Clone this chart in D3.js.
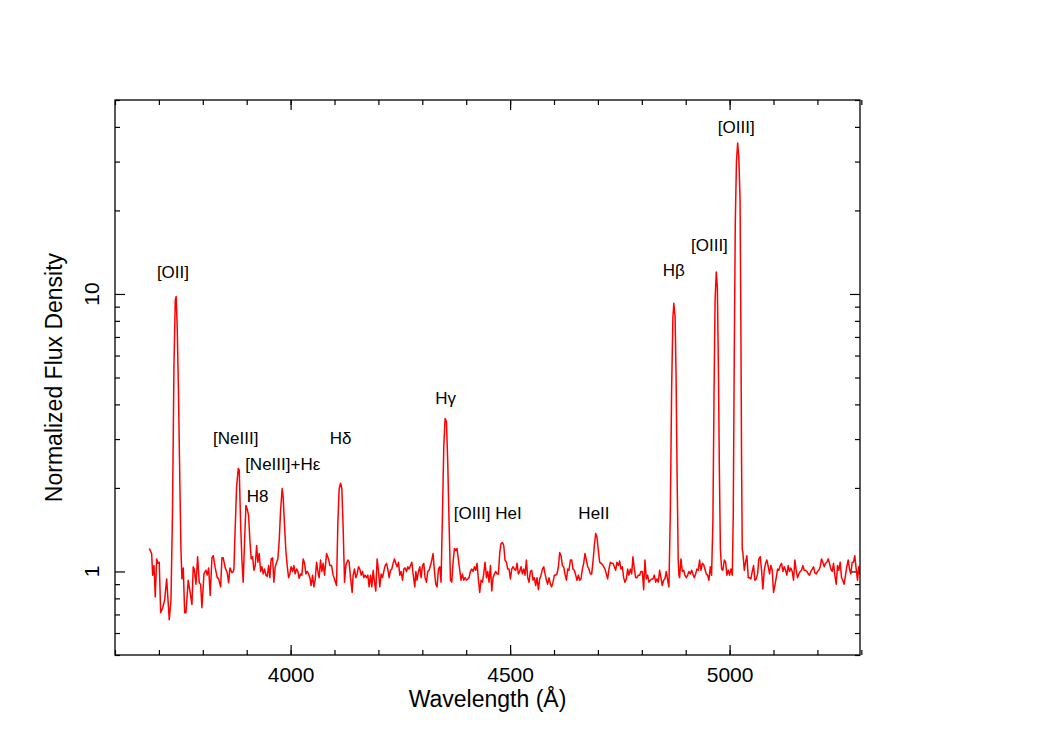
<!DOCTYPE html>
<html lang="en">
<head>
    <meta charset="UTF-8">
    <title>Normalized spectrum</title>
    <script src="https://d3js.org/d3.v7.min.js"></script>
    <style>
        body { margin: 0; background: #fff; }
        svg { display: block; font-family: "Liberation Sans", Arial, sans-serif; }
        .tick line { stroke: #000; stroke-width: 1.2px; }
        .tick text { font-size: 21px; fill: #000; }
        .lab { font-size: 17px; fill: #000; }
        .title { font-size: 23px; fill: #000; }
    </style>
</head>
<body>
    <svg id="chart"></svg>

    <script>
        // wavelength (Angstrom) and normalized flux
        var wavelength = [
            3678.1, 3683.5, 3685.8, 3688.8, 3691.7, 3694.9, 3697.9, 3700.8, 3704.0, 3708.6,
            3713.1, 3717.7, 3723.6, 3727.5, 3730.9, 3734.3, 3737.3, 3739.3, 3741.8, 3744.5,
            3746.8, 3750.2, 3752.5, 3755.5, 3758.7, 3761.6, 3766.8, 3770.7, 3775.3, 3778.2,
            3780.5, 3784.4, 3788.2, 3791.9, 3795.0, 3798.0, 3802.6, 3807.1, 3810.1, 3813.3,
            3816.9, 3820.8, 3823.8, 3828.3, 3832.9, 3836.1, 3840.6, 3843.6, 3846.5, 3851.1,
            3855.6, 3858.8, 3861.8, 3866.3, 3869.3, 3870.9, 3873.2, 3877.0, 3880.7, 3883.0,
            3886.1, 3889.1, 3892.0, 3895.2, 3898.2, 3901.1, 3904.3, 3907.3, 3910.3, 3913.4,
            3916.4, 3919.4, 3922.6, 3925.5, 3928.5, 3931.7, 3934.6, 3937.6, 3940.8, 3943.7,
            3946.7, 3949.9, 3952.8, 3955.8, 3959.0, 3961.9, 3964.9, 3968.1, 3971.0, 3974.0,
            3977.2, 3980.8, 3983.1, 3986.3, 3989.2, 3992.2, 3995.4, 3998.3, 4001.3, 4004.5,
            4007.5, 4010.4, 4013.6, 4016.6, 4019.5, 4022.7, 4025.7, 4028.6, 4031.8, 4034.8,
            4037.7, 4040.9, 4043.9, 4046.8, 4050.0, 4053.0, 4055.9, 4059.1, 4062.1, 4065.0,
            4068.2, 4071.2, 4074.1, 4077.3, 4081.9, 4086.4, 4089.4, 4093.3, 4096.9, 4100.8,
            4104.6, 4107.6, 4110.6, 4113.8, 4116.7, 4119.7, 4122.9, 4125.8, 4130.4, 4133.3,
            4136.5, 4140.2, 4142.4, 4145.6, 4148.6, 4151.5, 4154.7, 4157.7, 4160.7, 4163.8,
            4166.8, 4169.7, 4172.9, 4175.9, 4178.9, 4182.0, 4185.0, 4188.0, 4191.1, 4194.1,
            4197.1, 4200.3, 4203.2, 4206.2, 4209.4, 4212.3, 4215.3, 4218.5, 4221.4, 4224.4,
            4227.6, 4230.5, 4233.5, 4236.7, 4239.6, 4242.6, 4245.8, 4248.7, 4251.7, 4254.9,
            4257.9, 4260.8, 4264.0, 4267.0, 4269.9, 4273.1, 4276.1, 4279.0, 4282.9, 4285.2,
            4288.1, 4291.3, 4294.3, 4297.2, 4300.4, 4303.4, 4306.3, 4309.5, 4312.5, 4315.4,
            4318.6, 4321.6, 4324.5, 4327.7, 4330.7, 4333.6, 4336.8, 4339.8, 4342.7, 4345.9,
            4348.9, 4351.9, 4355.0, 4358.0, 4361.0, 4364.1, 4367.1, 4370.1, 4373.2, 4376.2,
            4379.1, 4382.3, 4385.3, 4388.2, 4391.4, 4394.4, 4397.4, 4400.5, 4403.5, 4406.5,
            4409.6, 4412.6, 4415.6, 4418.8, 4421.7, 4424.7, 4427.9, 4430.8, 4433.8, 4437.0,
            4439.9, 4442.9, 4446.1, 4449.0, 4452.0, 4455.2, 4458.2, 4461.1, 4464.3, 4467.3,
            4470.2, 4473.4, 4476.4, 4479.3, 4482.5, 4485.5, 4488.4, 4491.6, 4494.6, 4497.6,
            4500.7, 4503.7, 4506.7, 4509.8, 4512.8, 4515.8, 4518.9, 4521.9, 4524.9, 4528.0,
            4531.0, 4534.0, 4537.1, 4540.1, 4543.1, 4546.2, 4549.2, 4552.2, 4555.3, 4558.3,
            4561.3, 4564.5, 4567.4, 4570.4, 4573.6, 4576.5, 4579.5, 4582.7, 4585.6, 4588.6,
            4591.8, 4594.7, 4597.7, 4600.9, 4603.8, 4606.8, 4610.0, 4612.9, 4615.9, 4619.1,
            4622.0, 4625.0, 4628.2, 4631.2, 4634.1, 4637.3, 4640.3, 4643.2, 4646.4, 4649.4,
            4652.3, 4655.5, 4658.5, 4661.4, 4664.6, 4667.6, 4670.5, 4673.7, 4676.7, 4679.6,
            4682.8, 4685.8, 4688.7, 4691.9, 4694.9, 4697.8, 4701.0, 4704.0, 4707.0, 4710.1,
            4713.1, 4716.1, 4719.2, 4722.2, 4725.2, 4728.4, 4731.3, 4734.3, 4737.5, 4740.4,
            4743.4, 4746.6, 4749.5, 4752.5, 4755.7, 4758.6, 4761.6, 4764.8, 4767.7, 4770.7,
            4773.9, 4776.9, 4779.8, 4783.0, 4786.0, 4788.9, 4792.1, 4795.1, 4798.0, 4801.2,
            4804.2, 4807.1, 4810.3, 4813.3, 4816.2, 4819.4, 4822.4, 4825.3, 4828.5, 4831.5,
            4834.4, 4837.6, 4840.6, 4843.5, 4846.7, 4849.7, 4852.6, 4855.8, 4858.8, 4861.7,
            4864.9, 4867.9, 4870.8, 4872.9, 4875.8, 4878.1, 4880.4, 4882.9, 4884.5, 4886.1,
            4889.1, 4892.3, 4895.3, 4898.2, 4901.4, 4904.4, 4907.3, 4910.5, 4913.5, 4916.4,
            4919.6, 4922.6, 4925.5, 4928.7, 4931.6, 4934.6, 4937.8, 4940.7, 4943.7, 4946.9,
            4949.8, 4952.8, 4956.0, 4958.9, 4961.9, 4964.6, 4966.9, 4969.6, 4972.1, 4974.4,
            4976.7, 4979.0, 4981.8, 4984.7, 4987.9, 4990.9, 4993.8, 4997.0, 5000.0, 5002.9,
            5006.1, 5008.3, 5010.6, 5012.9, 5015.6, 5018.3, 5021.0, 5023.8, 5025.6, 5027.2,
            5028.8, 5030.2, 5033.4, 5036.3, 5039.3, 5042.5, 5045.5, 5048.4, 5051.6, 5054.6,
            5057.5, 5060.7, 5063.7, 5066.6, 5069.8, 5072.8, 5075.7, 5078.9, 5081.9, 5084.8,
            5088.0, 5091.0, 5094.0, 5097.1, 5100.1, 5103.1, 5106.2, 5109.2, 5112.1, 5115.3,
            5118.3, 5121.2, 5124.4, 5127.4, 5130.3, 5133.5, 5136.5, 5139.4, 5142.6, 5145.6,
            5148.6, 5151.7, 5154.7, 5157.7, 5160.9, 5163.8, 5166.8, 5169.9, 5172.9, 5175.9,
            5179.1, 5182.0, 5185.0, 5188.2, 5191.1, 5194.1, 5197.3, 5200.2, 5203.2, 5206.4,
            5209.3, 5212.3, 5215.5, 5218.5, 5221.4, 5224.6, 5227.6, 5230.5, 5233.7, 5236.7,
            5239.6, 5242.8, 5245.8, 5248.7, 5251.9, 5254.9, 5257.8, 5261.0, 5264.0, 5266.9,
            5270.1, 5273.1, 5276.0, 5279.2, 5282.2, 5285.1, 5288.3, 5291.3, 5294.2, 5297.0,
            5300.5
        ];
        var flux = [
            1.21, 1.16, 0.97, 1.05, 0.81, 1.11, 1.07, 1.08, 0.71, 0.74,
            0.79, 0.94, 0.67, 0.79, 1.6, 5.5, 9.5, 9.8, 7.5, 4.5,
            2.6, 1.2, 0.94, 1.03, 0.71, 0.71, 0.93, 0.85, 0.76, 1.04,
            1.02, 0.90, 1.13, 0.91, 0.90, 0.74, 0.98, 1.01, 0.97, 1.03,
            0.82, 1.12, 1.14, 1.03, 0.95, 0.94, 0.88, 1.12, 1.12, 1.03,
            0.99, 0.91, 1.03, 0.99, 1.00, 1.02, 1.35, 2.02, 2.35, 2.32,
            1.49, 1.10, 0.915, 1.29, 1.73, 1.68, 1.59, 1.29, 1.11, 1.13,
            1.01, 1.05, 1.24, 1.08, 1.16, 1.00, 1.04, 0.98, 1.02, 0.97,
            0.96, 1.05, 0.95, 1.11, 1.12, 0.915, 1.04, 1.08, 1.11, 1.29,
            1.66, 1.99, 1.85, 1.45, 1.19, 1.05, 0.95, 0.98, 1.04, 1.00,
            1.05, 0.98, 1.02, 1.00, 0.945, 0.98, 0.97, 1.11, 1.07, 0.98,
            1.00, 0.98, 0.95, 0.89, 0.97, 0.88, 0.93, 1.08, 1.00, 0.95,
            1.10, 1.00, 1.07, 0.97, 1.16, 1.11, 1.05, 1.05, 0.97, 0.93,
            0.89, 1.49, 1.99, 2.08, 1.99, 1.43, 0.915, 1.05, 1.10, 1.08,
            0.95, 0.84, 0.97, 1.02, 0.95, 0.98, 1.04, 1.02, 0.97, 1.00,
            0.95, 0.97, 0.95, 0.97, 0.88, 0.97, 0.88, 1.01, 0.915, 0.85,
            1.11, 1.00, 0.88, 0.98, 0.95, 1.00, 1.05, 1.07, 1.02, 0.95,
            1.01, 1.02, 1.07, 1.11, 1.07, 1.04, 1.08, 0.97, 1.00, 0.93,
            1.02, 1.03, 1.00, 1.04, 1.02, 1.05, 1.08, 0.98, 0.88, 1.00,
            0.93, 1.00, 1.04, 0.95, 1.05, 1.07, 0.95, 0.915, 1.00, 1.01,
            1.05, 1.10, 1.16, 1.00, 0.90, 0.88, 1.02, 1.04, 0.915, 1.62,
            2.81, 3.56, 3.46, 2.45, 1.49, 0.93, 0.915, 1.08, 1.21, 1.19,
            1.21, 1.10, 1.01, 0.93, 0.98, 0.93, 0.95, 0.93, 0.94, 0.95,
            1.00, 1.02, 1.00, 1.04, 1.01, 1.07, 0.93, 0.84, 0.93, 0.915,
            0.98, 1.08, 0.95, 1.00, 0.915, 1.05, 0.85, 0.95, 0.98, 1.00,
            0.98, 0.98, 1.17, 1.26, 1.27, 1.24, 1.10, 1.08, 1.02, 1.02,
            0.94, 1.02, 1.04, 1.02, 1.01, 1.07, 0.98, 1.00, 1.04, 0.98,
            1.02, 0.97, 1.10, 0.95, 0.915, 1.00, 1.01, 0.93, 0.95, 0.89,
            0.95, 0.86, 0.94, 0.97, 1.02, 1.04, 0.98, 0.93, 0.90, 0.95,
            0.90, 0.88, 0.915, 0.97, 0.97, 0.98, 1.04, 1.17, 1.14, 1.05,
            1.04, 0.98, 0.93, 1.02, 1.01, 1.10, 1.10, 1.02, 1.01, 0.97,
            0.93, 0.97, 0.93, 0.94, 1.02, 1.07, 1.16, 1.10, 1.04, 1.02,
            0.98, 0.98, 1.08, 1.24, 1.37, 1.33, 1.19, 1.08, 1.07, 1.06,
            1.04, 1.02, 0.98, 0.94, 1.02, 1.08, 1.07, 1.07, 1.04, 1.01,
            1.08, 1.05, 1.09, 1.02, 1.04, 0.95, 0.915, 0.94, 1.02, 0.97,
            1.02, 0.98, 1.13, 1.02, 0.95, 0.95, 0.97, 0.97, 1.00, 1.00,
            0.86, 1.10, 0.94, 0.97, 0.915, 0.93, 0.94, 0.94, 0.97, 0.915,
            0.94, 0.915, 1.01, 0.95, 0.89, 0.93, 0.94, 1.00, 0.93, 0.88,
            1.6, 4.5, 8.2, 9.25, 8.3, 5.0, 2.2, 1.1, 0.97, 0.95,
            1.11, 1.00, 1.01, 0.97, 0.95, 0.97, 1.00, 0.98, 1.01, 0.98,
            0.95, 0.98, 1.02, 1.01, 1.10, 1.01, 1.07, 1.06, 1.02, 0.98,
            0.97, 0.93, 1.04, 0.97, 1.5, 4.5, 9.5, 12.0, 10.5, 5.5,
            2.3, 1.2, 1.02, 1.01, 1.10, 1.08, 0.97, 1.01, 0.97, 1.02,
            0.97, 1.6, 6.0, 18.0, 30.0, 35.0, 31.0, 22.0, 8.0, 2.5,
            1.2, 1.17, 1.01, 1.08, 1.14, 0.95, 0.95, 0.94, 1.00, 1.05,
            0.93, 0.94, 0.98, 1.11, 1.13, 1.01, 0.865, 1.01, 1.07, 1.10,
            1.04, 0.98, 1.05, 1.01, 0.84, 0.89, 0.95, 1.02, 1.01, 1.05,
            1.07, 1.00, 1.04, 1.01, 0.97, 1.05, 1.00, 1.03, 1.00, 0.93,
            1.10, 1.01, 0.95, 0.98, 1.00, 1.01, 1.05, 1.01, 1.01, 1.00,
            0.98, 0.97, 1.00, 1.02, 1.04, 0.99, 0.98, 1.00, 1.01, 1.04,
            1.11, 1.08, 1.04, 1.07, 1.08, 1.11, 1.07, 1.02, 1.00, 1.07,
            0.97, 0.90, 1.05, 1.01, 1.08, 0.95, 0.93, 0.90, 0.97, 1.04,
            1.10, 1.02, 0.98, 1.08, 1.08, 1.14, 1.02, 0.93, 1.04, 0.98,
            1.00
        ];

        // line labels: text, wavelength of label centre, flux level of baseline
        var lineNames = ["[OII]", "[NeIII]", "[NeIII]+H\u03b5", "H8", "H\u03b4", "H\u03b3",
                         "[OIII] HeI", "HeII", "H\u03b2", "[OIII]", "[OIII]"];
        var lineWave = [3732, 3875, 3982, 3925, 4114, 4353, 4449, 4691, 4873, 4954, 5015];
        var lineLevel = [11.4, 2.87, 2.33, 1.78, 2.87, 4.02, 1.54, 1.54, 11.6, 14.3, 38.0];

        var xMajor = [4000, 4500, 5000];
        var xMinor = d3.range(3600, 5301, 100);
        var yMajor = [1, 10];
        var yMinor = [0.5, 0.6, 0.7, 0.8, 0.9, 2, 3, 4, 5, 6, 7, 8, 9, 20, 30, 40, 50];

        var width = 1038, height = 734;
        var margin = { top: 100, right: 178, bottom: 79, left: 115 };
        var w = width - margin.left - margin.right,
            h = height - margin.top - margin.bottom;

        var svg = d3.select("#chart")
            .attr("width", width)
            .attr("height", height);

        var g = svg.append("g")
            .attr("transform", "translate(" + margin.left + "," + margin.top + ")");

        var x = d3.scaleLinear().domain([3600, 5297]).range([0, w]);
        var y = d3.scaleLog().domain([0.5, 50]).range([h, 0]);

        g.append("clipPath").attr("id", "clip")
            .append("rect").attr("width", w).attr("height", h);

        // minor ticks on all four sides
        g.append("g").attr("transform", "translate(0," + h + ")")
            .call(d3.axisBottom(x).tickValues(xMinor).tickSize(-5).tickFormat(""));
        g.append("g")
            .call(d3.axisTop(x).tickValues(xMinor).tickSize(-5).tickFormat(""));
        g.append("g")
            .call(d3.axisLeft(y).tickValues(yMinor).tickSize(-5).tickFormat(""));
        g.append("g").attr("transform", "translate(" + w + ",0)")
            .call(d3.axisRight(y).tickValues(yMinor).tickSize(-5).tickFormat(""));

        // major ticks
        g.append("g").attr("transform", "translate(0," + h + ")")
            .call(d3.axisBottom(x).tickValues(xMajor).tickSize(-10).tickPadding(12).tickFormat(d3.format("d")));
        g.append("g")
            .call(d3.axisTop(x).tickValues(xMajor).tickSize(-10).tickFormat(""));
        g.append("g")
            .call(d3.axisLeft(y).tickValues(yMajor).tickSize(-10).tickFormat(""));
        g.append("g").attr("transform", "translate(" + w + ",0)")
            .call(d3.axisRight(y).tickValues(yMajor).tickSize(-10).tickFormat(""));

        g.selectAll(".domain").remove();

        // rotated y tick labels
        g.selectAll(".ylab")
            .data(yMajor)
            .enter().append("text")
            .attr("class", "ylab")
            .attr("transform", d => "translate(-16," + y(d) + ") rotate(-90)")
            .attr("text-anchor", "middle")
            .style("font-size", "21px")
            .text(d => d);

        // spectrum
        var pts = wavelength.map((d, i) => [d, flux[i]]);
        g.append("path")
            .datum(pts)
            .attr("clip-path", "url(#clip)")
            .attr("fill", "none")
            .attr("stroke", "#ff0000")
            .attr("stroke-width", 1.5)
            .attr("stroke-linejoin", "round")
            .attr("d", d3.line().x(d => x(d[0])).y(d => y(d[1])));

        // frame
        g.append("rect")
            .attr("width", w).attr("height", h)
            .attr("fill", "none").attr("stroke", "#000").attr("stroke-width", 1.3);

        // line labels
        g.selectAll(".lab")
            .data(lineNames)
            .enter().append("text")
            .attr("class", "lab")
            .attr("x", (d, i) => x(lineWave[i]))
            .attr("y", (d, i) => y(lineLevel[i]))
            .attr("text-anchor", "middle")
            .text(d => d);

        // axis titles
        g.append("text")
            .attr("class", "title")
            .attr("text-anchor", "middle")
            .attr("x", w / 2)
            .attr("y", h + 52)
            .text("Wavelength (\u00c5)");

        g.append("text")
            .attr("class", "title")
            .attr("text-anchor", "middle")
            .attr("transform", "translate(-53," + (h / 2) + ") rotate(-90)")
            .text("Normalized Flux Density");
    </script>
</body>
</html>
